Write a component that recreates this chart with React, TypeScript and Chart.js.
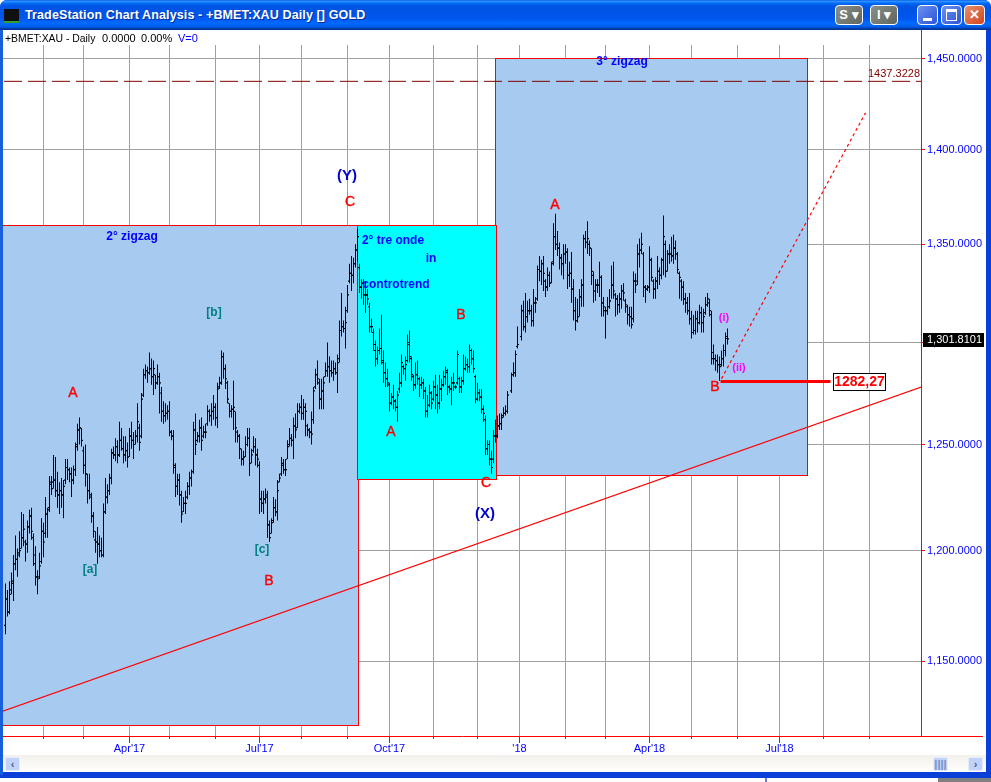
import React, { useEffect, useRef } from "react";
import { Chart, registerables } from "chart.js";

Chart.register(...registerables);

const highs: (number | null)[] = [
  1185,1182,1186,1190,1198,1207,1201,1209,1218,1217,
  1205,1214,1219,1220,1208,1202,1191,1199,1215,1213,
  1225,1220,1235,1235,1245,1244,1237,1232,1234,1233,
  1243,1243,1239,1239,1240,1251,1260,1263,1258,1249,
  1250,1236,1236,1227,1218,1209,1211,1207,1206,1222,
  1234,1231,1236,1248,1249,1253,1252,1261,1258,1254,
  1254,1251,1258,1261,1256,1257,1270,1260,1275,1287,
  1289,1288,1295,1292,1291,1284,1289,1285,1278,1271,
  1270,1269,1271,1257,1257,1241,1236,1236,1228,1225,
  1228,1232,1237,1238,1261,1265,1256,1262,1263,1259,
  1260,1269,1267,1270,1274,1270,1280,1283,1296,1295,
  1289,1281,1270,1269,1281,1266,1257,1255,1248,1247,
  1254,1258,1258,1248,1254,1253,1248,1242,1228,1228,
  1229,1228,1214,1215,1225,1224,1233,1236,1244,1243,
  1243,1252,1258,1255,1263,1265,1270,1270,1274,1272,
  1270,1260,1258,1266,1278,1287,1291,1282,1282,1283,
  1290,1300,1293,1291,1291,1290,1294,1311,1325,1311,
  1318,1329,1340,1344,1343,1350,1358,1340,1332,1332,
  1331,1327,1320,1312,1307,1301,1298,1307,1314,1296,
  1290,1287,1280,1275,1279,1272,1276,1285,1294,1289,
  1293,1304,1306,1293,1284,1290,1291,1283,1283,1282,
  1278,1274,1279,1276,1281,1284,1279,1284,1282,1286,
  1288,1287,1279,1283,1285,1279,1296,1283,1283,1294,
  1293,1292,1299,1297,1296,1284,1280,1277,1277,1269,
  1264,1252,1252,1247,1257,1262,1264,1265,1265,1268,
  1269,1276,null,1285,1290,1296,1308,null,1319,1321,
  1325,1321,1322,1319,1327,1323,1339,1344,1342,1344,
  1332,1338,1336,1341,1361,1366,1357,1351,1345,1350,
  1350,1348,1341,1346,1332,1323,1322,1327,1332,1355,
  1357,1362,1352,1348,1336,1332,1332,1341,1334,1323,
  1318,1323,1327,1339,1341,1325,1324,1325,1329,1330,
  1322,1319,1318,1318,1336,1335,1350,1353,1356,1346,
  1329,1329,1349,1343,1332,1333,1344,1338,1343,1365,
  1352,1347,1350,1354,1355,1352,1346,1336,1332,1331,
  1325,1323,1325,1316,1314,1316,1316,1319,1318,1317,
  1323,1325,1322,1316,1299,1294,1294,1293,1296,1299,1305,1307,
];

const lows: (number | null)[] = [
  1162,1170,1171,1180,1177,1191,1188,1197,1201,1202,
  1195,1199,1208,1205,1193,1184,1180,1187,1194,1197,
  1206,1206,1218,1226,1229,1225,1220,1217,1220,1215,
  1231,1233,1232,1225,1231,1235,1247,1250,1249,1236,
  1230,1222,1224,1213,1206,1199,1194,1197,1197,1197,
  1217,1222,1226,1231,1243,1242,1241,1244,1247,1241,
  1242,1239,1244,1248,1243,1250,1251,1247,1253,1273,
  1282,1280,1284,1279,1274,1277,1279,1265,1261,1260,
  1261,1262,1254,1252,1236,1225,1226,1221,1213,1218,
  1217,1224,1226,1230,1236,1245,1251,1251,1247,1253,
  1253,1259,1261,1259,1262,1259,1258,1277,1279,1282,
  1277,1270,1263,1263,1257,1251,1251,1243,1240,1240,
  1244,1249,1235,1241,1246,1240,1239,1217,1218,1217,
  1222,1206,1204,1208,1213,1216,1214,1232,1235,1236,
  1235,1243,1249,1249,1243,1253,1258,1265,1262,1262,
  1254,1254,1253,1250,1260,1277,1279,1267,1267,1267,
  1283,1283,1280,1283,1281,1284,1275,1290,1303,1305,
  1297,1315,1330,1326,1330,1338,1341,1325,1322,1319,
  1315,1319,1305,1305,1296,1288,1289,1294,1289,1280,
  1278,1278,1266,1269,1267,1266,1261,1275,1278,1284,
  1281,1290,1290,1281,1276,1277,1279,1273,1277,1272,
  1263,1263,1268,1267,1271,1267,1265,1267,1271,1278,
  1279,1274,1275,1269,1276,1277,1279,1275,1275,1279,
  1286,1285,1285,1289,1285,1270,1271,1271,1265,1261,
  1245,1245,1240,1236,1241,1251,1253,1257,1257,1263,
  1264,1265,null,1275,1283,1283,1297,null,1301,1306,
  1305,1310,1314,1308,1308,1315,1321,1331,1329,1326,
  1323,1326,1328,1330,1339,1347,1344,1337,1334,1332,
  1340,1327,1328,1320,1311,1306,1310,1313,1318,1318,
  1348,1345,1344,1329,1320,1321,1325,1323,1313,1313,
  1302,1314,1317,1322,1322,1313,1314,1315,1317,1321,
  1315,1309,1308,1307,1310,1325,1329,1338,1345,1323,
  1320,1326,1325,1331,1322,1322,1327,1329,1332,1334,
  1333,1336,1340,1341,1340,1342,1335,1322,1321,1319,
  1315,1314,1309,1302,1304,1304,1305,1309,1305,1305,
  1314,1318,1313,1289,1289,1286,1285,1281,1288,1288,1293,1299,
];

const closes: (number | null)[] = [
  1178,1172,1180,1185,1194,1196,1198,1200,1206,1210,
  1203,1211,1216,1209,1198,1188,1187,1193,1209,1204,
  1217,1219,1232,1229,1233,1228,1226,1228,1226,1230,
  1239,1238,1236,1233,1238,1249,1257,1258,1252,1240,
  1236,1228,1226,1216,1209,1204,1203,1200,1198,1218,
  1225,1228,1234,1246,1245,1249,1245,1252,1248,1245,
  1247,1244,1254,1252,1250,1254,1261,1251,1272,1284,
  1286,1285,1287,1283,1287,1280,1283,1280,1266,1264,
  1265,1266,1256,1254,1240,1230,1233,1226,1217,1222,
  1222,1230,1234,1237,1257,1250,1254,1258,1252,1256,
  1256,1266,1264,1266,1268,1263,1277,1280,1293,1287,
  1282,1272,1266,1267,1268,1258,1254,1248,1243,1244,
  1250,1253,1241,1245,1249,1245,1243,1224,1222,1224,
  1225,1212,1206,1213,1220,1218,1228,1234,1240,1238,
  1238,1249,1253,1252,1259,1257,1266,1268,1265,1268,
  1266,1257,1256,1255,1276,1284,1282,1272,1276,1280,
  1286,1288,1286,1285,1287,1285,1290,1306,1308,1307,
  1310,1324,1335,1334,1340,1347,1354,1328,1330,1324,
  1324,1322,1308,1308,1299,1292,1296,1297,1291,1285,
  1282,1280,1270,1273,1271,1268,1274,1280,1290,1287,
  1289,1300,1293,1284,1279,1284,1282,1279,1280,1276,
  1266,1269,1275,1270,1278,1274,1270,1277,1279,1283,
  1286,1278,1277,1280,1280,1278,1294,1278,1281,1287,
  1289,1288,1296,1292,1287,1272,1275,1273,1267,1265,
  1248,1250,1243,1239,1254,1254,1259,1260,1263,1265,
  1266,1274,null,1284,1285,1294,1299,null,1316,1308,
  1313,1316,1316,1311,1320,1320,1337,1336,1340,1335,
  1328,1334,1330,1340,1354,1350,1348,1343,1340,1345,
  1346,1334,1335,1327,1316,1311,1313,1323,1329,1353,
  1351,1353,1348,1336,1326,1329,1329,1333,1320,1318,
  1316,1318,1321,1329,1326,1322,1319,1322,1326,1325,
  1319,1314,1313,1309,1331,1329,1345,1347,1350,1328,
  1327,1328,1342,1333,1327,1331,1336,1334,1342,1354,
  1336,1345,1345,1344,1348,1345,1337,1333,1328,1322,
  1320,1316,1312,1305,1306,1312,1310,1315,1310,1313,
  1319,1322,1316,1292,1292,1291,1289,1288,1292,1296,1302,1301.81,
];

const opens: (number | null)[] = [
  1166,1178,1172,1182,1186,1194,1196,1199,1201,1206,
  1204,1203,1211,1216,1206,1194,1188,1188,1195,1209,
  1208,1217,1220,1231,1232,1233,1228,1226,1228,1226,
  1233,1239,1238,1236,1233,1238,1250,1257,1258,1247,
  1240,1236,1228,1225,1216,1205,1204,1203,1200,1198,
  1218,1225,1228,1234,1246,1245,1249,1245,1252,1248,
  1245,1247,1244,1254,1252,1250,1254,1258,1254,1274,
  1284,1286,1285,1287,1283,1284,1280,1283,1275,1266,
  1264,1265,1266,1256,1254,1239,1230,1233,1226,1218,
  1222,1225,1230,1234,1237,1257,1252,1254,1258,1254,
  1256,1260,1266,1264,1266,1268,1263,1278,1280,1293,
  1287,1280,1270,1266,1267,1266,1256,1254,1248,1243,
  1244,1250,1253,1241,1247,1249,1245,1240,1224,1222,
  1224,1226,1212,1208,1214,1220,1218,1232,1236,1241,
  1238,1243,1250,1253,1252,1259,1258,1266,1268,1265,
  1268,1259,1257,1256,1262,1278,1284,1280,1272,1276,
  1283,1286,1288,1286,1285,1287,1285,1292,1306,1308,
  1307,1316,1331,1335,1334,1340,1347,1338,1328,1330,
  1324,1324,1318,1308,1305,1296,1292,1296,1297,1290,
  1285,1282,1279,1270,1273,1271,1268,1277,1280,1288,
  1287,1291,1299,1292,1283,1279,1284,1282,1279,1280,
  1276,1266,1269,1275,1272,1278,1274,1270,1277,1279,
  1283,1285,1278,1277,1280,1278,1280,1282,1278,1281,
  1287,1289,1288,1296,1292,1283,1272,1275,1273,1267,
  1262,1248,1250,1243,1243,1254,1254,1259,1260,1264,
  1265,1266,null,1276,1284,1285,1298,null,1303,1316,
  1308,1313,1316,1316,1311,1320,1322,1337,1336,1340,
  1331,1328,1334,1330,1341,1354,1350,1348,1343,1340,
  1345,1346,1334,1335,1327,1316,1311,1313,1323,1329,
  1353,1351,1350,1348,1334,1326,1329,1329,1333,1320,
  1316,1316,1318,1321,1329,1324,1322,1319,1322,1326,
  1321,1318,1314,1313,1312,1331,1331,1345,1347,1345,
  1328,1327,1328,1342,1331,1327,1331,1336,1334,1342,
  1350,1336,1345,1345,1344,1348,1345,1335,1331,1328,
  1322,1320,1316,1312,1305,1306,1312,1310,1315,1310,
  1315,1319,1320,1314,1295,1292,1291,1289,1289,1292,1296,1303,
];

const xTicks = [20,40,63,83,106,128,149,172,193,215,237,258,281,301,323,344,367,388,410,433];
const xTickLabels = ["","","Apr'17","","","Jul'17","","","Oct'17","","","'18","","","Apr'18","","","Jul'18","",""];
const yTicks = [1150,1200,1250,1300,1350,1400,1450];
const yTickLabels = ["1,150.0000","1,200.0000","1,250.0000","1,300.0000","1,350.0000","1,400.0000","1,450.0000"];

const resistanceX = [0.25, 459];
const resistanceY = [1437.32, 1437.32];
const trendX = [-1, 459];
const trendY = [1128, 1278];
const projectionX = [359, 431];
const projectionY = [1282, 1420];
const levelX = [358.5, 413.5];
const levelY = [1280.7, 1280.7];

const boxLeft = [-5, 245.75, 176.75];
const boxRight = [177.25, 401.75, 246.25];
const boxTop = [1360, 1450.5, 1360];
const boxBottom = [1122.4, 1235.2, 1233.4];
const boxFill = ["#A6CAF0", "#A6CAF0", "#00FFFF"];

const WAVE = "14px 'Liberation Sans'";
const notes: [string, number, number, string, string][] = [
  ["2° zigzag", 132, 237, "#0000FF", "bold 12px 'Liberation Sans'"],
  ["3° zigzag", 622, 62, "#0000FF", "bold 12px 'Liberation Sans'"],
  ["2° tre onde", 393, 241, "#0000FF", "bold 12px 'Liberation Sans'"],
  ["in", 431, 259, "#0000FF", "bold 12px 'Liberation Sans'"],
  ["controtrend", 396, 285, "#0000FF", "bold 12px 'Liberation Sans'"],
  ["(Y)", 347, 176, "#0000CC", "bold 15px 'Liberation Sans'"],
  ["C", 350, 202, "#FF0000", WAVE],
  ["A", 73, 393, "#FF0000", WAVE],
  ["[b]", 214, 313, "#008080", "bold 12px 'Liberation Sans'"],
  ["[a]", 90, 570, "#008080", "bold 12px 'Liberation Sans'"],
  ["[c]", 262, 550, "#008080", "bold 12px 'Liberation Sans'"],
  ["B", 269, 581, "#FF0000", WAVE],
  ["A", 391, 432, "#FF0000", WAVE],
  ["B", 461, 315, "#FF0000", WAVE],
  ["C", 486, 483, "#FF0000", WAVE],
  ["(X)", 485, 514, "#0000CC", "bold 15px 'Liberation Sans'"],
  ["A", 555, 205, "#FF0000", WAVE],
  ["(i)", 724, 318, "#FF00FF", "bold 11px 'Liberation Sans'"],
  ["(ii)", 739, 368, "#FF00FF", "bold 11px 'Liberation Sans'"],
  ["B", 715, 387, "#FF0000", WAVE],
  ["1437.3228", 894, 74, "#800000", "11px 'Liberation Sans'"],
];

const chartDressing = {
  id: "chartDressing",
  beforeDatasetsDraw(chart: any) {
    const { ctx, scales, chartArea } = chart;
    ctx.save();
    ctx.fillStyle = "#FFFFFF";
    ctx.fillRect(chartArea.left, chartArea.top, chartArea.right - chartArea.left - 1, 15);
    ctx.beginPath();
    ctx.rect(chartArea.left, chartArea.top, chartArea.right - chartArea.left, chartArea.bottom - chartArea.top);
    ctx.clip();
    boxFill.forEach((fill, i) => {
      const l = Math.round(scales.x.getPixelForValue(boxLeft[i]));
      const r = Math.round(scales.x.getPixelForValue(boxRight[i]));
      const t = Math.round(scales.y.getPixelForValue(boxTop[i]));
      const b = Math.round(scales.y.getPixelForValue(boxBottom[i]));
      ctx.fillStyle = fill;
      ctx.fillRect(l, t, r - l, b - t);
      ctx.strokeStyle = "#FF0000";
      ctx.lineWidth = 1;
      ctx.strokeRect(l + 0.5, t + 0.5, r - l, b - t);
    });
    ctx.restore();
  },
  afterDatasetsDraw(chart: any) {
    const { ctx } = chart;
    ctx.save();
    ctx.textAlign = "center";
    ctx.textBaseline = "middle";
    notes.forEach(([text, x, y, color, font]) => {
      ctx.font = font;
      ctx.fillStyle = color;
      ctx.fillText(text, x, y);
      if (font === WAVE) {
        ctx.strokeStyle = color;
        ctx.lineWidth = 0.4;
        ctx.strokeText(text, x, y);
      }
    });
    ctx.restore();
  },
  afterDraw(chart: any) {
    const { ctx, scales, chartArea } = chart;
    ctx.save();
    ctx.fillStyle = "#FF0000";
    ctx.fillRect(chartArea.right, chartArea.bottom, 62, 1);
    xTickLabels.forEach((label, i) => {
      if (label) {
        ctx.fillRect(Math.round(scales.x.getPixelForValue(xTicks[i]) - 0.5), chartArea.bottom, 1, 7);
      }
    });
    ctx.textBaseline = "middle";
    ctx.font = "10.4px 'Liberation Sans'";
    ctx.fillStyle = "#000000";
    ctx.fillText("+BMET:XAU - Daily", 5, 39);
    ctx.font = "11px 'Liberation Sans'";
    ctx.fillText("0.0000", 102, 39);
    ctx.fillText("0.00%", 141, 39);
    ctx.fillStyle = "#0000FF";
    ctx.fillText("V=0", 178, 39);

    ctx.fillStyle = "#000000";
    ctx.fillRect(923, 333, 61, 14);
    ctx.fillStyle = "#FFFFFF";
    ctx.fillText("1,301.8101", 927, 340);

    ctx.fillStyle = "#FFFFFF";
    ctx.fillRect(833, 373, 52, 17);
    ctx.strokeStyle = "#000000";
    ctx.strokeRect(833.5, 373.5, 52, 17);
    ctx.fillStyle = "#FF0000";
    ctx.font = "bold 14px 'Liberation Sans'";
    ctx.textAlign = "center";
    ctx.fillText("1282,27", 859.5, 382);
    ctx.restore();
  },
};

const btn = (x: number, w: number, bg: string): React.CSSProperties => ({
  position: "absolute",
  left: x,
  top: 5,
  width: w,
  height: 20,
  boxSizing: "border-box",
  border: "1px solid #fff",
  borderRadius: 4,
  background: bg,
  color: "#fff",
  font: "bold 13px 'Liberation Sans'",
  lineHeight: "18px",
  textAlign: "center",
});

const scrollBtn = (x: number): React.CSSProperties => ({
  position: "absolute",
  left: x,
  top: 757,
  width: 15,
  height: 14,
  borderRadius: 2,
  background: "#C1D3FB",
  border: "1px solid #E4EBFB",
  boxSizing: "border-box",
  color: "#4D6185",
  font: "bold 11px 'Liberation Sans'",
  lineHeight: "12px",
  textAlign: "center",
});

export default function App() {
  const ref = useRef<HTMLCanvasElement>(null);

  useEffect(() => {
    const bars: any[] = [];
    const closeTicks: any[] = [];
    const openTicks: any[] = [];
    highs.forEach((h, i) => {
      const n = i + 1;
      if (h === null) return;
      bars.push({ x: n, y: [lows[i], h] });
      closeTicks.push({ x: n + 0.5, y: closes[i] });
      openTicks.push({ x: n - 0.5, y: opens[i] });
    });
    const lineOf = (xs: number[], ys: number[]) => xs.map((x, i) => ({ x, y: ys[i] }));
    const chart = new Chart(ref.current as HTMLCanvasElement, {
      type: "bar",
      data: {
        datasets: [
          {
            label: "Range",
            data: bars,
            backgroundColor: "#000000",
            borderWidth: 0,
            barThickness: 1,
            inflateAmount: 0,
            order: 4,
          },
          {
            type: "scatter",
            label: "Open",
            data: openTicks,
            pointStyle: "line",
            pointRadius: 0.5,
            borderColor: "#000000",
            pointBorderColor: "#000000",
            pointBorderWidth: 1.2,
            order: 3,
          },
          {
            type: "scatter",
            label: "Close",
            data: closeTicks,
            pointStyle: "line",
            pointRadius: 0.5,
            borderColor: "#000000",
            pointBorderColor: "#000000",
            pointBorderWidth: 1.2,
            order: 3,
          },
          {
            type: "line",
            label: "Resistance",
            data: lineOf(resistanceX, resistanceY),
            borderColor: "#800000",
            borderWidth: 1,
            borderDash: [18, 6],
            pointRadius: 0,
            order: 2,
          },
          {
            type: "line",
            label: "Trend",
            data: lineOf(trendX, trendY),
            borderColor: "#FF0000",
            borderWidth: 1.1,
            pointRadius: 0,
            order: 2,
          },
          {
            type: "line",
            label: "Projection",
            data: lineOf(projectionX, projectionY),
            borderColor: "#FF0000",
            borderWidth: 1.2,
            borderDash: [3, 3],
            pointRadius: 0,
            order: 2,
          },
          {
            type: "line",
            label: "Level",
            data: lineOf(levelX, levelY),
            borderColor: "#FF0000",
            borderWidth: 3,
            pointRadius: 0,
            order: 1,
          },
        ] as any,
      },
      options: {
        animation: false,
        responsive: false,
        devicePixelRatio: 1,
        layout: { padding: { left: 3, top: 30, right: 0, bottom: 0 }, autoPadding: false },
        plugins: { legend: { display: false }, tooltip: { enabled: false } },
        scales: {
          x: {
            type: "linear",
            offset: false,
            min: -0.25,
            max: 458.75,
            position: "bottom",
            afterBuildTicks: (s: any) => {
              s.ticks = xTicks.map((value) => ({ value }));
            },
            afterFit: (s: any) => {
              s.height = 46;
            },
            grid: { offset: false, color: "#A0A0A0", tickColor: "#FF0000", tickLength: 3, lineWidth: 1 },
            border: { color: "#FF0000", width: 1 },
            ticks: {
              autoSkip: false,
              maxRotation: 0,
              padding: 3,
              color: "#0000FF",
              font: { family: "'Liberation Sans'", size: 11 },
              callback: (v: any) => {
                const i = xTicks.indexOf(Number(v));
                return i >= 0 ? xTickLabels[i] : "";
              },
            },
          },
          y: {
            type: "logarithmic",
            position: "right",
            min: 1117.46,
            max: 1465.97,
            afterBuildTicks: (s: any) => {
              s.ticks = yTicks.map((value) => ({ value }));
            },
            afterFit: (s: any) => {
              s.width = 70;
            },
            grid: { color: "#A0A0A0", tickColor: "#FF0000", tickLength: 4, lineWidth: 1 },
            border: { color: "#FF0000", width: 1 },
            ticks: {
              autoSkip: false,
              padding: 2,
              color: "#0000FF",
              font: { family: "'Liberation Sans'", size: 11 },
              callback: (v: any) => {
                const i = yTicks.indexOf(Number(v));
                return i >= 0 ? yTickLabels[i] : "";
              },
            },
          },
        },
      } as any,
      plugins: [chartDressing],
    });
    return () => chart.destroy();
  }, []);

  return (
    <div style={{ position: "fixed", left: 0, top: 0, width: 991, height: 782, overflow: "hidden", background: "#FFFFFF" }}>
      {/* window frame */}
      <div style={{ position: "absolute", left: 0, top: 0, width: 991, height: 778, background: "#0A3FD8", borderRadius: "7px 7px 0 0" }} />
      <div
        style={{
          position: "absolute",
          left: 0,
          top: 0,
          width: 991,
          height: 30,
          borderRadius: "7px 7px 0 0",
          background:
            "linear-gradient(180deg,#0058EE 0%,#3593FF 4%,#288EFF 6%,#127DFF 8%,#036FFC 10%,#0262EE 14%,#0057E5 20%,#0054E3 24%,#0055EB 56%,#005BF5 66%,#026AFE 76%,#0062EF 86%,#0052D6 92%,#0040AB 94%,#003092 100%)",
        }}
      />
      <div style={{ position: "absolute", left: 0, top: 30, width: 3, height: 745, background: "#1660DC" }} />
      <div style={{ position: "absolute", left: 3, top: 30, width: 983, height: 725, background: "#FFFFFF" }} />
      {/* title */}
      <div style={{ position: "absolute", left: 4, top: 9, width: 15, height: 14, background: "#101010", borderBottom: "2px solid #30A030", boxSizing: "border-box" }} />
      <div
        style={{
          position: "absolute",
          left: 25,
          top: 8,
          color: "#FFFFFF",
          font: "bold 12.5px 'Liberation Sans'",
          letterSpacing: "0.12px",
          whiteSpace: "nowrap",
          textShadow: "1px 1px 0 #0030A0",
        }}
      >
        TradeStation Chart Analysis - +BMET:XAU Daily [] GOLD
      </div>
      <div style={btn(835, 28, "linear-gradient(135deg,#8a8f8a,#5f655f)")}>S ▾</div>
      <div style={btn(870, 28, "linear-gradient(135deg,#8a8f8a,#5f655f)")}>I ▾</div>
      <div style={btn(917, 21, "linear-gradient(135deg,#6d90ee,#2a55d8)")}>
        <div style={{ position: "absolute", left: 5, top: 12, width: 9, height: 3, background: "#FFF" }} />
      </div>
      <div style={btn(941, 21, "linear-gradient(135deg,#6d90ee,#2a55d8)")}>
        <div style={{ position: "absolute", left: 4, top: 3, width: 11, height: 12, boxSizing: "border-box", border: "1px solid #FFF", borderTopWidth: 3 }} />
      </div>
      <div style={btn(964, 21, "linear-gradient(135deg,#E8906A,#D2421E)")}>✕</div>
      {/* scrollbar */}
      <div style={{ position: "absolute", left: 3, top: 755, width: 983, height: 17, background: "linear-gradient(180deg,#F3F1EC,#FEFEFB)" }} />
      <div style={scrollBtn(5)}>‹</div>
      <div style={{ ...scrollBtn(933), color: "#7A90C0" }}>||||</div>
      <div style={scrollBtn(968)}>›</div>
      {/* windows behind */}
      <div style={{ position: "absolute", left: 765, top: 778, width: 173, height: 4, background: "#FFFFFF", borderLeft: "2px solid #6A7FD0" }} />
      <div style={{ position: "absolute", left: 938, top: 778, width: 53, height: 4, background: "#808080" }} />
      <canvas ref={ref} width={991} height={782} style={{ position: "absolute", left: 0, top: 0, width: 991, height: 782 }} />
    </div>
  );
}
